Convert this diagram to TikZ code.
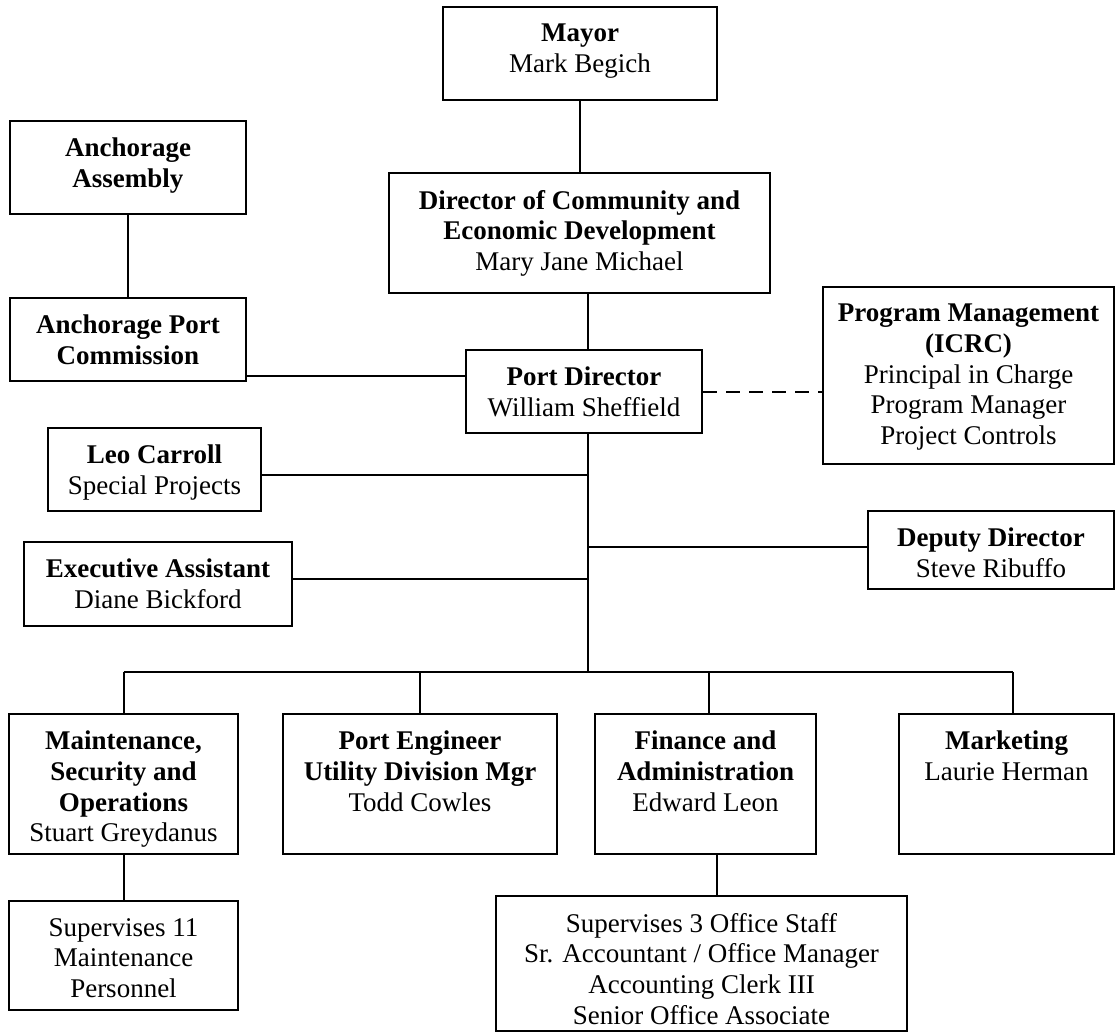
\documentclass[tikz,border=0pt]{standalone}
\usepackage{fontspec}
\setmainfont{Liberation Serif}
\begin{document}
\begin{tikzpicture}[x=1pt,y=-1pt,
  post/.style={draw,line width=2pt,inner sep=0pt},
  txt/.style={anchor=north,yshift=-18pt,align=center,inner sep=0pt,font=\fontsize{27}{30.6}\selectfont},
  wire/.style={line width=2pt}]
  \useasboundingbox (0,0) rectangle (1118,1034);
  % chain of command
  \node[post,minimum width=274,minimum height=93,label={[txt]north:{\textbf{Mayor}\\Mark Begich}}] (mayor) at (580,53.5) {};
  \node[post,minimum width=381,minimum height=120,label={[txt]north:{\textbf{Director of Community and}\\\textbf{Economic Development}\\Mary Jane Michael}}] (ced) at (579.5,233) {};
  \node[post,minimum width=236,minimum height=83,label={[txt]north:{\textbf{Port Director}\\William Sheffield}}] (portdir) at (584,391.5) {};
  \node[post,minimum width=291,minimum height=177,label={[txt]north:{\textbf{Program Management}\\\textbf{(ICRC)}\\Principal in Charge\\Program Manager\\Project Controls}}] (progmgmt) at (968.5,375.5) {};
  % assembly side
  \node[post,minimum width=236,minimum height=93,label={[txt]north:{\textbf{Anchorage}\\\textbf{Assembly}}}] (assembly) at (128,167.5) {};
  \node[post,minimum width=236,minimum height=83,label={[txt]north:{\textbf{Anchorage Port}\\\textbf{Commission}}}] (commission) at (128,339.5) {};
  % staff
  \node[post,minimum width=213,minimum height=83,label={[txt]north:{\textbf{Leo Carroll}\\Special Projects}}] (leo) at (154.5,469.5) {};
  \node[post,minimum width=268,minimum height=84,label={[txt]north:{\textbf{Executive Assistant}\\Diane Bickford}}] (exec) at (158,584) {};
  \node[post,minimum width=246,minimum height=78,label={[txt]north:{\textbf{Deputy Director}\\Steve Ribuffo}}] (deputy) at (991,550) {};
  % divisions
  \node[post,minimum width=229,minimum height=140,label={[txt]north:{\textbf{Maintenance,}\\\textbf{Security and}\\\textbf{Operations}\\Stuart Greydanus}}] (maint) at (123.5,784) {};
  \node[post,minimum width=274,minimum height=140,label={[txt]north:{\textbf{Port Engineer}\\\textbf{Utility Division Mgr}\\Todd Cowles}}] (engineer) at (420,784) {};
  \node[post,minimum width=221,minimum height=140,label={[txt]north:{\textbf{Finance and}\\\textbf{Administration}\\Edward Leon}}] (finance) at (705.5,784) {};
  \node[post,minimum width=215,minimum height=140,label={[txt]north:{\textbf{Marketing}\\Laurie Herman}}] (marketing) at (1006.5,784) {};
  \node[post,minimum width=229,minimum height=109,label={[txt]north:{Supervises 11\\Maintenance\\Personnel}}] (crew) at (123.5,955.5) {};
  \node[post,minimum width=411,minimum height=135,label={[txt]north:{Supervises 3 Office Staff\\Sr. Accountant / Office Manager\\Accounting Clerk III\\Senior Office Associate}}] (office) at (701.5,963.5) {};
  % connectors
  \coordinate (trunk) at (588,0);
  \coordinate (bus) at (588,672);
  \draw[wire] (mayor.south) -- (mayor.south |- ced.north);
  \draw[wire] (trunk |- ced.south) -- (trunk |- portdir.north);
  \draw[wire] (trunk |- portdir.south) -- (bus);
  \draw[wire] (assembly.south) -- (commission.north);
  \draw[wire] ([yshift=-36.5pt]commission.east) coordinate (c1) -- (c1 -| portdir.west);
  \draw[wire,dash pattern=on 14pt off 9pt] (portdir.east) -- (portdir.east -| progmgmt.west);
  \draw[wire] ([yshift=-5.5pt]leo.east) coordinate (l1) -- (l1 -| trunk);
  \draw[wire] ([yshift=5pt]exec.east) coordinate (e1) -- (e1 -| trunk);
  \draw[wire] ([yshift=3pt]deputy.west) coordinate (d1) -- (d1 -| trunk);
  \draw[wire] (maint.north |- bus) -- ([xshift=6.5pt]marketing.north |- bus);
  \foreach \b/\dx in {maint/0,engineer/0,finance/3.5,marketing/6.5}
    \draw[wire] ([xshift=\dx pt]\b.north) -- ([xshift=\dx pt]\b.north |- bus);
  \draw[wire] (maint.south) -- (crew.north);
  \draw[wire] ([xshift=11.5pt]finance.south) coordinate (f1) -- (f1 |- office.north);
\end{tikzpicture}
\end{document}
